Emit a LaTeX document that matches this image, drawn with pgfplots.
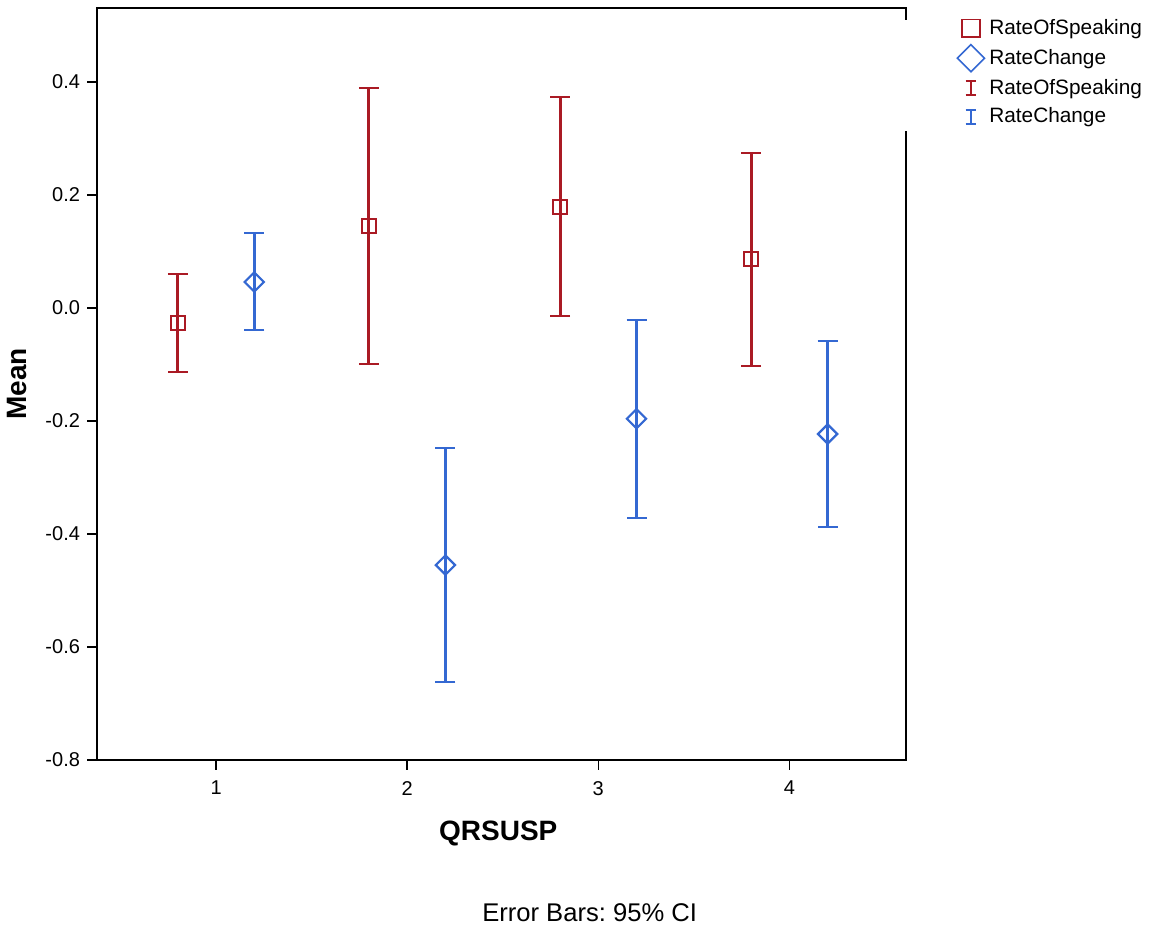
\documentclass[border=0pt]{standalone}
\usepackage{fontspec}
\setmainfont{Liberation Sans}
\usepackage{pgfplots}
\pgfplotsset{compat=1.18}
\usepackage{pgfplotstable}
\definecolor{rred}{RGB}{170,26,36}
\definecolor{rblue}{RGB}{52,104,210}
\pgfplotstableread{
x y ep em
0.8 -0.027 0.087 0.086
1.8 0.145 0.244 0.244
2.8 0.179 0.194 0.193
3.8 0.087 0.187 0.190
}\ros
\pgfplotstableread{
x y ep em
1.2 0.046 0.087 0.085
2.2 -0.455 0.207 0.207
3.2 -0.196 0.175 0.176
4.2 -0.223 0.165 0.165
}\rc
\begin{document}
\begin{tikzpicture}
\begin{axis}[
  at={(0,0)}, anchor=south west,
  scale only axis, width=404.5pt, height=376pt,
  xmin=0.377, xmax=4.61, ymin=-0.8, ymax=0.531,
  xtick={1,2,3,4}, ytick={-0.8,-0.6,-0.4,-0.2,0,0.2,0.4},
  yticklabel style={/pgf/number format/.cd, fixed, fixed zerofill, precision=1},
  /pgf/number format/assume math mode=true,
  tick label style={font=\fontsize{10}{11}\selectfont},
  xticklabel style={yshift=-2pt},
  tick align=outside, tick pos=left,
  major tick length=5pt,
  every tick/.style={black, line width=0.8pt},
  axis line style={line width=0.9pt},
  xlabel={\bfseries QRSUSP}, ylabel={\bfseries Mean},
  label style={font=\fontsize{14}{15}\selectfont},
  xlabel style={at={(axis description cs:0.496,0)}, anchor=center, yshift=-36.5pt},
  ylabel style={at={(axis description cs:0,0.5)}, anchor=center, yshift=40pt},
  legend style={at={(axis description cs:1.062,0.991)}, anchor=north west, draw=none, fill=none,
    font=\fontsize{10.4}{11}\selectfont, row sep=1.3pt, inner sep=0pt},
  legend cell align=left,
  clip=false,
]
\addlegendimage{legend image code/.code={\draw[rred, line width=0.8pt] (-4.4pt,-4.4pt) rectangle (4.4pt,4.4pt);}}
\addlegendentry{RateOfSpeaking}
\addlegendimage{legend image code/.code={\draw[rblue, line width=0.8pt] (-6.8pt,0pt) -- (0pt,6.8pt) -- (6.8pt,0pt) -- (0pt,-6.8pt) -- cycle;}}
\addlegendentry{RateChange}
\addlegendimage{legend image code/.code={\draw[rred, line width=1.3pt] (0pt,-3.6pt) -- (0pt,3.6pt); \draw[rred, line width=1pt] (-2.7pt,3.6pt) -- (2.7pt,3.6pt) (-2.7pt,-3.6pt) -- (2.7pt,-3.6pt);}}
\addlegendentry{RateOfSpeaking}
\addlegendimage{legend image code/.code={\draw[rblue, line width=1.3pt] (0pt,-3.6pt) -- (0pt,3.6pt); \draw[rblue, line width=1pt] (-2.7pt,3.6pt) -- (2.7pt,3.6pt) (-2.7pt,-3.6pt) -- (2.7pt,-3.6pt);}}
\addlegendentry{RateChange}
% error bars
\addplot[forget plot, draw=none, mark=none,
  error bars/.cd, y dir=both, y explicit,
  error bar style={rred, line width=1.5pt},
  error mark options={rred, line width=1.1pt, mark size=5pt, rotate=90}]
  table[x=x, y=y, y error plus=ep, y error minus=em] {\ros};
\addplot[forget plot, draw=none, mark=none,
  error bars/.cd, y dir=both, y explicit,
  error bar style={rblue, line width=1.5pt},
  error mark options={rblue, line width=1.1pt, mark size=5pt, rotate=90}]
  table[x=x, y=y, y error plus=ep, y error minus=em] {\rc};
% markers
\addplot[forget plot, only marks, mark=square, mark size=3.5pt, color=rred, line width=1.1pt]
  table[x=x, y=y] {\ros};
\addplot[forget plot, only marks, mark=square, mark options={rotate=45}, mark size=3.4pt, color=rblue, line width=1.1pt]
  table[x=x, y=y] {\rc};
% gap in right border behind legend
\fill[white] ([xshift=-1pt]axis description cs:1,0.8364) rectangle ([xshift=1pt]axis description cs:1,0.9840);
\node[font=\fontsize{12.8}{14}\selectfont, anchor=center] at ([yshift=-76.5pt]axis description cs:0.609,0) {\frenchspacing Error Bars: 95\% CI};
\path[use as bounding box] (-48.5pt,-85pt) rectangle (528pt,380pt);
\end{axis}
\end{tikzpicture}
\end{document}
